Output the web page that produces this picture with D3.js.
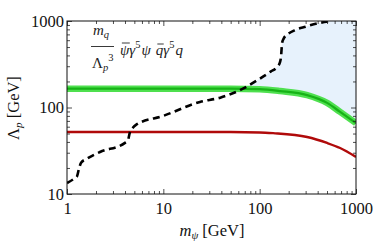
<!DOCTYPE html>
<html>
<head>
<meta charset="utf-8">
<script src="https://d3js.org/d3.v7.min.js"></script>
<style>
  body { margin: 0; background: #fff; }
</style>
</head>
<body>
<svg width="374" height="244"></svg>
<script>
var serif = "Liberation Serif";

// tick labels
var massTicks = [1, 10, 100, 1000];
var lambdaTicks = [10, 100, 1000];

// green band (central curve)
var greenM = [1, 10, 50, 100, 163, 311, 501, 684, 1000];
var greenV = [165, 165, 165, 163, 155, 139, 113, 89, 66];

// red curve
var redM = [1, 10, 50, 100, 138, 311, 501, 684, 1000];
var redV = [52, 52, 52, 51.5, 50.5, 45.6, 38.9, 34, 26.8];

// dashed bound
var dashM = [1, 1.2, 1.27, 1.33, 1.4, 1.6, 2.2, 4.0, 4.3, 4.5, 4.8, 5.2, 10, 24, 39, 67, 100, 130, 152, 162, 167, 169, 171, 178, 195, 230, 300, 400, 560];
var dashV = [13.4, 15.2, 16, 19.5, 23, 25.5, 30.6, 39, 42, 52, 58, 63, 80, 116, 130, 165, 215, 260, 295, 330, 400, 480, 560, 630, 700, 780, 860, 940, 1000];

var svg = d3.select("svg"),
    margin = {top: 21, right: 18, bottom: 50, left: 67},
    width = +svg.attr("width") - margin.left - margin.right,
    height = +svg.attr("height") - margin.top - margin.bottom,
    g = svg.append("g").attr("transform", "translate(" + margin.left + "," + margin.top + ")");

var x = d3.scaleLog().domain([1, 1000]).range([0, width]);
var y = d3.scaleLog().domain([10, 1000]).range([height, 0]);

function pairs(ms, vs) {
  return ms.map(function(m, i) { return {m: m, v: vs[i]}; });
}
var green = pairs(greenM, greenV),
    red = pairs(redM, redV),
    dash = pairs(dashM, dashV);

var line = d3.line()
    .curve(d3.curveMonotoneX)
    .x(function(d) { return x(d.m); })
    .y(function(d) { return y(d.v); });

// region right of the dashed bound and above the green curve
var clipData = dash.concat([{m: 1000, v: 1000}]);
var below = d3.area()
    .curve(d3.curveMonotoneX)
    .x(function(d) { return x(d.m); })
    .y0(height)
    .y1(function(d) { return y(d.v); });

var defs = svg.append("defs");
defs.append("clipPath").attr("id", "under")
  .append("path").attr("d", below(clipData));
defs.append("clipPath").attr("id", "frame")
  .append("rect").attr("width", width).attr("height", height);

var above = d3.area()
    .curve(d3.curveMonotoneX)
    .x(function(d) { return x(d.m); })
    .y0(function(d) { return y(d.v); })
    .y1(0);

var plot = g.append("g").attr("clip-path", "url(#frame)");

plot.append("g").attr("clip-path", "url(#under)")
  .append("path")
    .attr("d", above(green))
    .attr("fill", "#e7f2fc");

plot.append("path")
    .attr("d", line(green))
    .attr("fill", "none")
    .attr("stroke", "#4fe04f")
    .attr("stroke-width", 6.5);

plot.append("path")
    .attr("d", line(green))
    .attr("fill", "none")
    .attr("stroke", "#17b317")
    .attr("stroke-width", 2.2);

plot.append("path")
    .attr("d", line(red))
    .attr("fill", "none")
    .attr("stroke", "#b00a0a")
    .attr("stroke-width", 2.4);

plot.append("path")
    .attr("d", line(dash))
    .attr("fill", "none")
    .attr("stroke", "#000")
    .attr("stroke-width", 2.6)
    .attr("stroke-dasharray", "7,4.5");

// minor ticks 2..9 in each decade
var minorX = [], minorY = [];
[1, 10, 100].forEach(function(d) {
  for (var k = 2; k < 10; k++) minorX.push(d * k);
});
[10, 100].forEach(function(d) {
  for (var k = 2; k < 10; k++) minorY.push(d * k);
});

function styleAxis(sel) {
  sel.attr("font-family", null).attr("font-size", null);
  sel.select(".domain").remove();
  sel.selectAll("line").attr("stroke", "#222").attr("stroke-width", 0.8);
  sel.selectAll("text")
      .style("font-family", serif)
      .style("font-size", "16.5px")
      .attr("fill", "#111");
}

g.append("g")
    .attr("transform", "translate(0," + height + ")")
    .call(d3.axisBottom(x).tickValues(massTicks).tickSize(-5).tickPadding(8)
      .tickFormat(d3.format("d")))
    .call(styleAxis);
g.append("g")
    .attr("transform", "translate(0," + height + ")")
    .call(d3.axisBottom(x).tickValues(minorX).tickSize(-3).tickFormat(""))
    .call(styleAxis);
g.append("g")
    .call(d3.axisTop(x).tickValues(massTicks).tickSize(-5).tickFormat(""))
    .call(styleAxis);
g.append("g")
    .call(d3.axisTop(x).tickValues(minorX).tickSize(-3).tickFormat(""))
    .call(styleAxis);

g.append("g")
    .call(d3.axisLeft(y).tickValues(lambdaTicks).tickSize(-5).tickPadding(3)
      .tickFormat(d3.format("d")))
    .call(styleAxis);
g.append("g")
    .call(d3.axisLeft(y).tickValues(minorY).tickSize(-3).tickFormat(""))
    .call(styleAxis);
g.append("g")
    .attr("transform", "translate(" + width + ",0)")
    .call(d3.axisRight(y).tickValues(lambdaTicks).tickSize(-5).tickFormat(""))
    .call(styleAxis);
g.append("g")
    .attr("transform", "translate(" + width + ",0)")
    .call(d3.axisRight(y).tickValues(minorY).tickSize(-3).tickFormat(""))
    .call(styleAxis);

g.append("rect")
    .attr("width", width)
    .attr("height", height)
    .attr("fill", "none")
    .attr("stroke", "#111")
    .attr("stroke-width", 1);

// axis titles
var xt = svg.append("text")
    .attr("x", 212).attr("y", 236)
    .attr("text-anchor", "middle")
    .attr("fill", "#111")
    .style("font-family", serif)
    .style("font-size", "16.5px");
xt.append("tspan").style("font-style", "italic").text("m");
xt.append("tspan").style("font-style", "italic").style("font-size", "11px").attr("dy", 3).text("ψ");
xt.append("tspan").attr("dy", -3).text(" [GeV]");

var yt = svg.append("text")
    .attr("transform", "translate(19,108) rotate(-90)")
    .attr("text-anchor", "middle")
    .attr("fill", "#111")
    .style("font-family", serif)
    .style("font-size", "16.5px");
yt.append("tspan").text("Λ");
yt.append("tspan").style("font-style", "italic").style("font-size", "11px").attr("dy", 3).text("p");
yt.append("tspan").attr("dy", -3).text(" [GeV]");

// operator label
var note = svg.append("g");
function run(pieces, x0, y0) {
  var px = x0;
  pieces.forEach(function(p) {
    var size = p.size || 15;
    var t = note.append("text")
        .attr("x", px)
        .attr("y", y0 + (p.dy || 0))
        .attr("fill", "#222")
        .style("font-family", serif)
        .style("font-size", size + "px")
        .style("font-style", p.it ? "italic" : "normal")
        .text(p.s);
    var w = t.node().getComputedTextLength();
    if (p.bar) {
      note.append("line")
          .attr("x1", px + w * 0.2).attr("x2", px + w * 1.05)
          .attr("y1", y0 - p.bar).attr("y2", y0 - p.bar)
          .attr("stroke", "#222").attr("stroke-width", 0.9);
    }
    px += w + (p.gap || 0);
  });
  return px;
}

run([{s: "m", it: true}, {s: "q", it: true, size: 10.5, dy: 3}], 93, 35);
note.append("line")
    .attr("x1", 91).attr("x2", 114)
    .attr("y1", 46.5).attr("y2", 46.5)
    .attr("stroke", "#222").attr("stroke-width", 0.9);
run([{s: "Λ"}, {s: "p", it: true, size: 10.5, dy: 3}, {s: "3", size: 10.5, dy: -7}], 92, 68);
run([
  {s: "ψ", it: true, bar: 12},
  {s: "γ", it: true},
  {s: "5", size: 10.5, dy: -7, gap: 1},
  {s: "ψ", it: true, gap: 5},
  {s: "q", it: true, bar: 11},
  {s: "γ", it: true},
  {s: "5", size: 10.5, dy: -7, gap: 1},
  {s: "q", it: true}
], 120, 55);
</script>
</body>
</html>
